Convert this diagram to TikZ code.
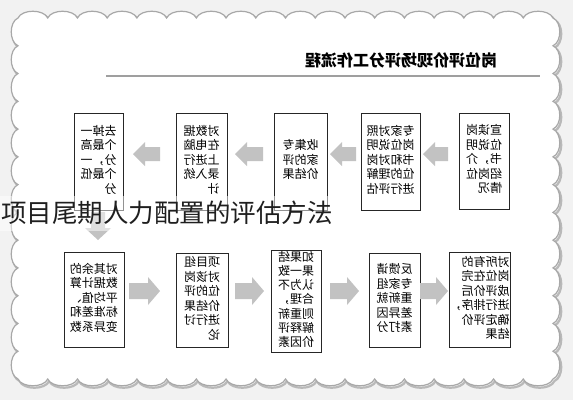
\documentclass[tikz,border=0pt]{standalone}
\usepackage{fontspec}
\newfontfamily\cjk{Noto Sans CJK SC}
\definecolor{bgc}{HTML}{F2F2F2}
\definecolor{frameline}{HTML}{A8A8A8}
\definecolor{arrowgray}{HTML}{C2C2C2}
\newcommand\mtext[2][14.5]{\reflectbox{\fontsize{12}{#1}\selectfont\begin{tabular}{@{}l@{}}#2\end{tabular}}}
\newcommand\framepath{(18,18)
  \foreach \i in {1,...,18}{ .. controls +(4,-9) and +(-4,-9) .. ({18+\i*535/18},18)}
  \foreach \i in {1,...,13}{ .. controls +(9,4) and +(9,-4) .. (553,{18+\i*361/13})}
  \foreach \i in {1,...,18}{ .. controls +(-4,9) and +(4,9) .. ({553-\i*535/18},379)}
  \foreach \i in {1,...,13}{ .. controls +(-9,-4) and +(-9,4) .. (18,{379-\i*361/13})} -- cycle}
% left-pointing block arrow: tip x, end x, centre y
\newcommand\leftarr[3]{\fill[arrowgray] (#1,#3) -- ({#1+12},{#3-12}) -- ({#1+12},{#3-7}) -- (#2,{#3-7}) -- (#2,{#3+7}) -- ({#1+12},{#3+7}) -- ({#1+12},{#3+12}) -- cycle;}
% right-pointing block arrow: start x, tip x, centre y
\newcommand\rightarr[3]{\fill[arrowgray] (#2,#3) -- ({#2-12},{#3-14}) -- ({#2-12},{#3-8}) -- (#1,{#3-8}) -- (#1,{#3+8}) -- ({#2-12},{#3+8}) -- ({#2-12},{#3+14}) -- cycle;}
\tikzset{
  stepbox/.style={draw=black!85, line width=0.7pt, fill=white, inner sep=0pt, font=\cjk},
}
\begin{document}
\begin{tikzpicture}[x=1pt,y=-1pt]
\useasboundingbox (0,0) rectangle (573,400);
\fill[bgc] (0,0) rectangle (573,400);
% frame
\draw[gray!55, line width=2.2pt, shift={(1.5,2)}] \framepath;
\draw[frameline, line width=1.2pt, fill=white] \framepath;
% title
\node[font=\cjk\bfseries\fontsize{16}{18}\selectfont, inner sep=0pt] (title) at (401,60) {\reflectbox{岗位评价现场评分工作流程}};
\draw[gray!75, line width=2pt] (106,76) -- (540,76);
% top row
\node[stepbox, minimum width=50pt, minimum height=96pt] (b1) at (484,161) {\mtext{宣读岗\\位说明\\书，介\\绍岗位\\情况}};
\node[stepbox, minimum width=59pt, minimum height=97pt] (b2) at (390.5,161.5) {\mtext{专家对照\\岗位说明\\书和对岗\\位的理解\\进行评估}};
\node[stepbox, minimum width=53pt, minimum height=97pt] (b3) at (300.5,161.5) {\mtext{收集专\\家的评\\价结果}};
\node[stepbox, minimum width=51pt, minimum height=97pt] (b4) at (201.5,161.5) {\mtext{对数据\\在电脑\\上进行\\录入统\\计}};
\node[stepbox, minimum width=49pt, minimum height=97pt] (b5) at (98.5,161.5) {\mtext{去掉一\\个最高\\分，一\\个最低\\分}};
\leftarr{423}{448}{154}
\leftarr{330}{356}{154}
\leftarr{235}{263}{154}
\leftarr{133}{160}{154}
% down arrow
\fill[arrowgray] (98,240) -- (85,228) -- (91,228) -- (91,212) -- (105,212) -- (105,228) -- (111,228) -- cycle;
% bottom row
\node[stepbox, minimum width=60pt, minimum height=95pt] (b6) at (94,299.5) {\mtext{对其余的\\数据计算\\平均值、\\标准差和\\变异系数}};
\node[stepbox, minimum width=52pt, minimum height=94pt] (b7) at (202,300) {\mtext{项目组\\对该岗\\位的评\\价结果\\进行讨\\论}};
\node[stepbox, minimum width=50pt, minimum height=102pt] (b8) at (296,301) {\mtext[14]{如果结\\果一致\\认为不\\合理，\\则重新\\解释评\\价因素}};
\node[stepbox, minimum width=51pt, minimum height=94pt] (b9) at (394.5,300) {\mtext{反馈请\\专家组\\重新就\\差异因\\素打分}};
\node[stepbox, minimum width=61pt, minimum height=95pt] (b10) at (479.5,299.5) {\mtext{对所有的\\岗位在完\\成评价后\\进行排序，\\确定评价\\结果}};
\rightarr{129}{160}{291}
\rightarr{235}{264}{291}
\rightarr{330}{359}{291}
\rightarr{420}{448}{291}
% caption overlay
\fill[white, opacity=.5] (0,196) rectangle (340,231);
\node[anchor=base west, inner sep=0pt, font=\cjk\fontsize{25.5}{28}\selectfont, text=black!88] (cap) at (1,222) {项目尾期人力配置的评估方法};
\end{tikzpicture}
\end{document}
